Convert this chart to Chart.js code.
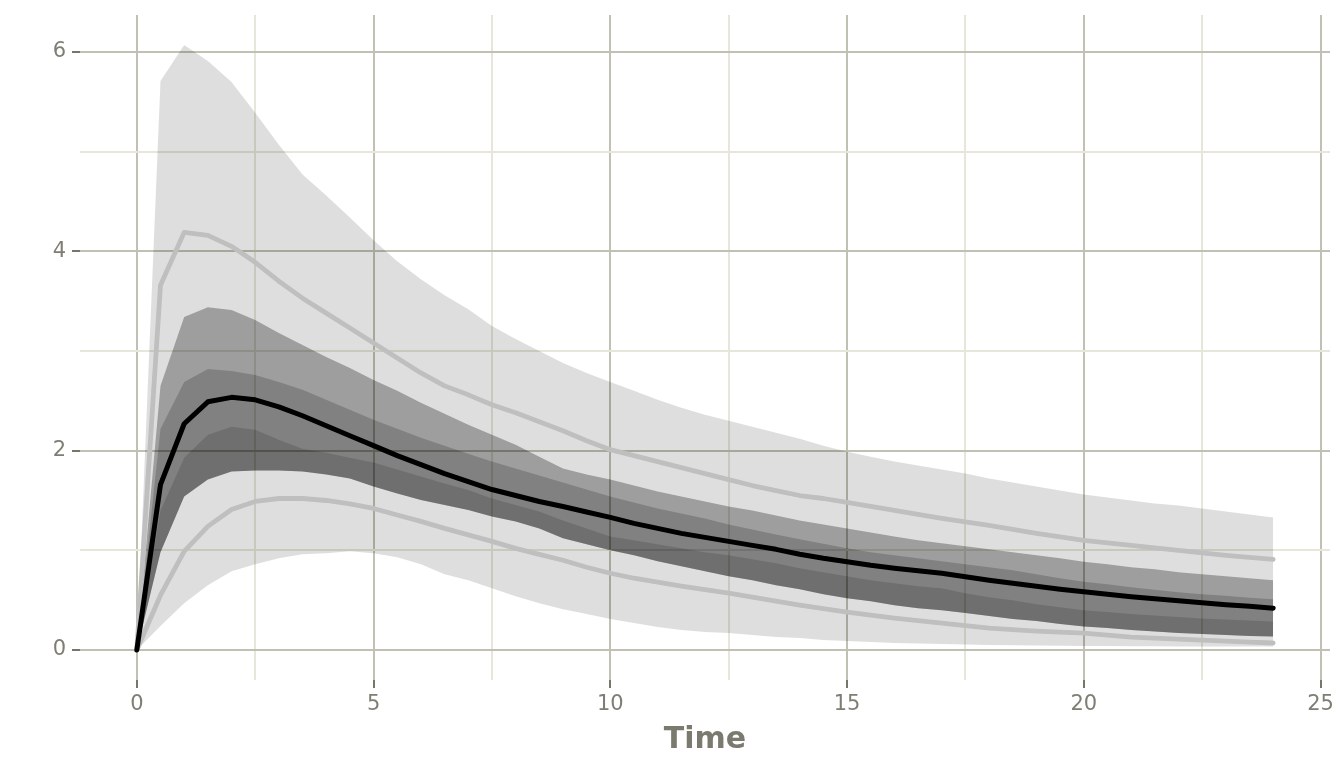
<!DOCTYPE html>
<html>
<head>
<meta charset="utf-8">
<title>Time</title>
<script src="https://cdn.jsdelivr.net/npm/chart.js@4.4.1/dist/chart.umd.min.js"></script>
<style>
  body { margin: 0; background: #ffffff; }
  #graph { display: block; }
</style>
</head>
<body>
<canvas id="graph" width="1344" height="768"></canvas>
<script>
// zeitpunkte
const zeit = [0, 0.5, 1, 1.5, 2, 2.5, 3, 3.5, 4, 4.5, 5, 5.5, 6, 6.5, 7, 7.5, 8, 8.5, 9, 9.5,
  10, 10.5, 11, 11.5, 12, 12.5, 13, 13.5, 14, 14.5, 15, 15.5, 16, 16.5, 17, 17.5, 18, 18.5, 19, 19.5,
  20, 20.5, 21, 21.5, 22, 22.5, 23, 23.5, 24];

// aeusseres band (hell)
const aussenOben = [0, 5.71, 6.07, 5.91, 5.70, 5.39, 5.07, 4.77, 4.56, 4.34, 4.11, 3.90, 3.72, 3.56, 3.42, 3.25, 3.12, 3.00, 2.88, 2.78,
  2.69, 2.60, 2.51, 2.43, 2.36, 2.30, 2.24, 2.18, 2.12, 2.05, 1.99, 1.94, 1.89, 1.85, 1.81, 1.77, 1.72, 1.68, 1.64, 1.60,
  1.56, 1.53, 1.50, 1.47, 1.45, 1.42, 1.39, 1.36, 1.33];
const aussenUnten = [0, 0.24, 0.47, 0.65, 0.79, 0.86, 0.92, 0.96, 0.97, 0.99, 0.97, 0.93, 0.86, 0.76, 0.70, 0.62, 0.54, 0.47, 0.41, 0.36,
  0.31, 0.27, 0.23, 0.20, 0.18, 0.17, 0.15, 0.13, 0.12, 0.10, 0.09, 0.08, 0.07, 0.065, 0.06, 0.055, 0.05, 0.048, 0.045, 0.043,
  0.04, 0.04, 0.038, 0.037, 0.036, 0.035, 0.035, 0.035, 0.035];

// hellgraue linien
const linieOben = [0, 3.66, 4.19, 4.16, 4.05, 3.89, 3.70, 3.53, 3.38, 3.23, 3.08, 2.93, 2.78, 2.65, 2.56, 2.46, 2.38, 2.29, 2.20, 2.10,
  2.01, 1.95, 1.89, 1.83, 1.77, 1.71, 1.65, 1.60, 1.55, 1.52, 1.48, 1.44, 1.40, 1.36, 1.32, 1.285, 1.25, 1.21, 1.17, 1.135,
  1.10, 1.075, 1.05, 1.025, 1.00, 0.975, 0.95, 0.93, 0.91];
const linieUnten = [0, 0.55, 0.99, 1.24, 1.41, 1.49, 1.52, 1.52, 1.50, 1.465, 1.42, 1.355, 1.29, 1.22, 1.155, 1.09, 1.02, 0.96, 0.90, 0.83,
  0.77, 0.72, 0.68, 0.64, 0.605, 0.57, 0.53, 0.49, 0.45, 0.415, 0.38, 0.35, 0.32, 0.295, 0.27, 0.245, 0.22, 0.205, 0.19, 0.18,
  0.17, 0.15, 0.13, 0.12, 0.11, 0.10, 0.09, 0.08, 0.07];

// dunkle baender, von oben nach unten
const grenze1 = [0, 2.65, 3.34, 3.44, 3.41, 3.31, 3.18, 3.06, 2.94, 2.83, 2.71, 2.60, 2.48, 2.37, 2.26, 2.16, 2.06, 1.94, 1.82, 1.76,
  1.71, 1.65, 1.59, 1.54, 1.49, 1.44, 1.40, 1.35, 1.30, 1.26, 1.22, 1.18, 1.14, 1.10, 1.07, 1.04, 1.01, 0.98, 0.95, 0.92,
  0.885, 0.86, 0.83, 0.81, 0.78, 0.76, 0.74, 0.72, 0.70];
const grenze2 = [0, 2.22, 2.69, 2.82, 2.80, 2.76, 2.69, 2.61, 2.51, 2.41, 2.31, 2.22, 2.13, 2.05, 1.97, 1.89, 1.82, 1.75, 1.68, 1.61,
  1.54, 1.48, 1.42, 1.37, 1.32, 1.26, 1.21, 1.16, 1.11, 1.065, 1.02, 0.98, 0.95, 0.92, 0.89, 0.86, 0.83, 0.80, 0.76, 0.72,
  0.685, 0.66, 0.63, 0.605, 0.58, 0.56, 0.545, 0.525, 0.51];
const grenze3 = [0, 1.40, 1.93, 2.16, 2.24, 2.21, 2.11, 2.02, 1.98, 1.93, 1.88, 1.81, 1.74, 1.67, 1.605, 1.52, 1.455, 1.39, 1.30, 1.22,
  1.14, 1.10, 1.06, 1.02, 0.98, 0.95, 0.91, 0.87, 0.82, 0.78, 0.74, 0.70, 0.67, 0.64, 0.62, 0.57, 0.53, 0.50, 0.46, 0.43,
  0.40, 0.38, 0.36, 0.345, 0.33, 0.315, 0.305, 0.295, 0.285];
const grenze4 = [0, 0.98, 1.54, 1.71, 1.79, 1.80, 1.80, 1.79, 1.76, 1.72, 1.64, 1.57, 1.505, 1.455, 1.405, 1.34, 1.29, 1.22, 1.12, 1.06,
  1.00, 0.95, 0.89, 0.84, 0.79, 0.74, 0.70, 0.65, 0.61, 0.56, 0.52, 0.49, 0.45, 0.42, 0.40, 0.37, 0.34, 0.31, 0.29, 0.26,
  0.235, 0.22, 0.20, 0.185, 0.17, 0.16, 0.15, 0.14, 0.135];

// median (schwarz)
const median = [0, 1.66, 2.27, 2.49, 2.535, 2.51, 2.44, 2.35, 2.25, 2.15, 2.05, 1.95, 1.86, 1.77, 1.69, 1.61, 1.55, 1.49, 1.44, 1.385,
  1.33, 1.27, 1.22, 1.17, 1.13, 1.09, 1.05, 1.01, 0.96, 0.92, 0.886, 0.85, 0.82, 0.795, 0.77, 0.735, 0.70, 0.67, 0.64, 0.61,
  0.585, 0.56, 0.535, 0.515, 0.495, 0.475, 0.455, 0.44, 0.42];

const xTicks = [0, 2.5, 5, 7.5, 10, 12.5, 15, 17.5, 20, 22.5, 25];
const yTicks = [0, 1, 2, 3, 4, 5, 6];

// macht aus einer reihe punkte fuer chart.js
function punkte(reihe) {
  return zeit.map((t, i) => ({ x: t, y: reihe[i] }));
}

function unsichtbar(reihe, ord) {
  return { data: punkte(reihe), borderWidth: 0, pointRadius: 0, fill: false, order: ord };
}

function band(reihe, ziel, farbe, ord) {
  return { data: punkte(reihe), borderWidth: 0, pointRadius: 0, fill: ziel, backgroundColor: farbe, order: ord };
}

function linie(reihe, farbe, breite, ord) {
  return { data: punkte(reihe), borderColor: farbe, borderWidth: breite, pointRadius: 0, fill: false,
    borderJoinStyle: 'round', borderCapStyle: 'round', order: ord };
}

const datasets = [
  unsichtbar(aussenUnten, 20),              // 0
  band(aussenOben, 0, 'rgba(0,0,0,0.13)', 19), // 1
  unsichtbar(grenze4, 18),                   // 2
  band(grenze1, 2, 'rgba(0,0,0,0.29)', 17),  // 3
  band(grenze2, 2, 'rgba(0,0,0,0.185)', 16), // 4
  band(grenze3, 2, 'rgba(0,0,0,0.14)', 15),  // 5
  linie(linieOben, '#bfbfbf', 4.8, 3),
  linie(linieUnten, '#bfbfbf', 4.8, 3),
  linie(median, '#000000', 5, 1)
];

const haupt = '#c0c0b3';
const neben = '#e6e7da';
const tickFarbe = '#76766c';
const textFarbe = '#7e7e74';

const ctx = document.getElementById('graph').getContext('2d');
new Chart(ctx, {
  type: 'line',
  data: { datasets: datasets },
  options: {
    responsive: false,
    animation: false,
    layout: { padding: { top: 15, right: 14, left: 0, bottom: 0 } },
    plugins: {
      legend: { display: false },
      tooltip: { enabled: false }
    },
    scales: {
      x: {
        type: 'linear',
        min: -1.2,
        max: 25.2,
        afterBuildTicks: (s) => { s.ticks = xTicks.map(v => ({ value: v })); },
        afterFit: (s) => { s.height = 88; s.paddingLeft = 0; s.paddingRight = 0; },
        border: { display: false },
        grid: {
          color: (c) => (c.tick && c.tick.value % 5 === 0) ? haupt : neben,
          lineWidth: 2,
          tickColor: (c) => (c.tick && c.tick.value % 5 === 0) ? tickFarbe : 'rgba(0,0,0,0)',
          tickLength: 8,
          tickWidth: 2
        },
        ticks: {
          autoSkip: false,
          maxRotation: 0,
          padding: 4,
          color: textFarbe,
          font: { family: 'DejaVu Sans', size: 21 },
          callback: (v) => v % 5 === 0 ? String(v) : ''
        },
        title: {
          display: true,
          text: 'Time',
          color: '#7a7a6f',
          font: { family: 'DejaVu Sans', size: 30, weight: 'bold' },
          padding: { top: 0, bottom: 10 }
        }
      },
      y: {
        type: 'linear',
        min: -0.301,
        max: 6.371,
        afterBuildTicks: (s) => { s.ticks = yTicks.map(v => ({ value: v })); },
        // kein extra platz oben fuer das letzte label
        afterFit: (s) => { s.width = 80; s.paddingTop = 0; s.paddingBottom = 0; },
        border: { display: false },
        grid: {
          color: (c) => (c.tick && c.tick.value % 2 === 0) ? haupt : neben,
          lineWidth: 2,
          tickColor: (c) => (c.tick && c.tick.value % 2 === 0) ? tickFarbe : 'rgba(0,0,0,0)',
          tickLength: 8,
          tickWidth: 2
        },
        ticks: {
          autoSkip: false,
          padding: 6,
          color: textFarbe,
          font: { family: 'DejaVu Sans', size: 21 },
          callback: (v) => v % 2 === 0 ? String(v) : ''
        }
      }
    }
  }
});
</script>
</body>
</html>
